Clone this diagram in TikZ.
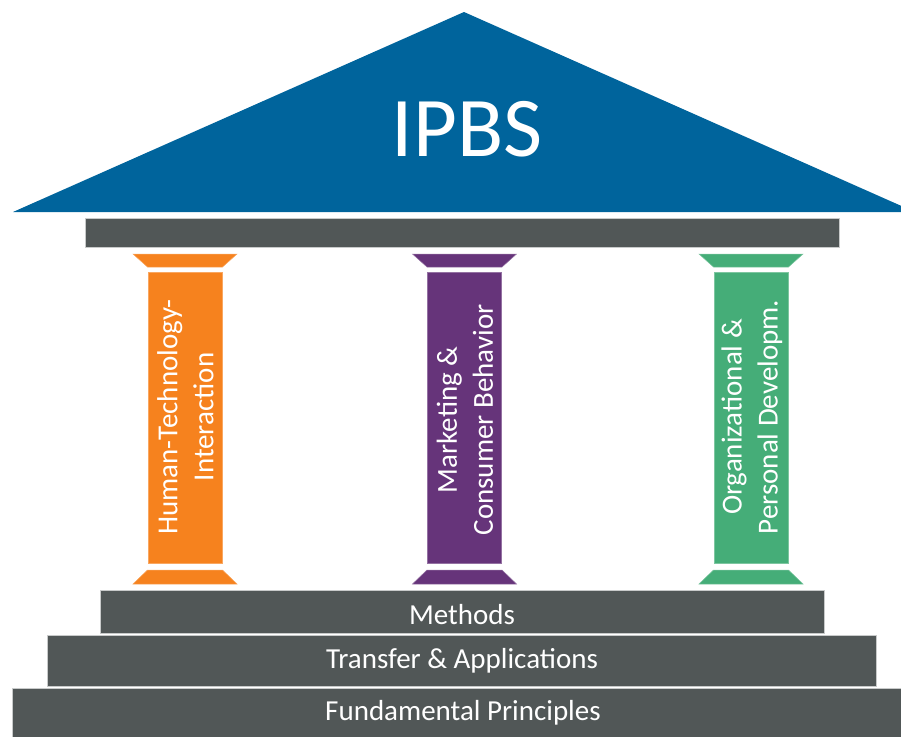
\documentclass[tikz,border=0pt]{standalone}
\usepackage{fontspec}
\setmainfont{Carlito}
\definecolor{roofblue}{HTML}{00649C}
\definecolor{stepgray}{HTML}{515757}
\definecolor{edgegray}{HTML}{C8CACA}
\definecolor{colorange}{HTML}{F6821E}
\definecolor{colpurple}{HTML}{66347A}
\definecolor{colgreen}{HTML}{45AD78}
\begin{document}
\begin{tikzpicture}[x=1pt,y=-1pt,
  stepbox/.style={fill=stepgray,draw=edgegray,line width=0.7pt},
  steptext/.style={text=white,font=\fontsize{29}{34}\selectfont,anchor=base,inner sep=0pt},
  coltext/.style={text=white,font=\fontsize{29}{36}\selectfont,align=center,rotate=90,inner sep=0pt},
  pics/pillar/.style={code={
    \fill[#1,draw=#1!70!white,line width=0.5pt] (-52,254) -- (52,254) -- (37.5,267) -- (-37.5,267) -- cycle;
    \fill[#1,draw=#1!70!white,line width=0.5pt] (-37,272) rectangle (37,563);
    \fill[#1,draw=#1!70!white,line width=0.5pt] (-37.5,570) -- (37.5,570) -- (52,584) -- (-52,584) -- cycle;
  }}]
\useasboundingbox (0,0) rectangle (901,736);
% roof
\fill[roofblue] (13,212) -- (464,12) -- (901,205.8) -- (901,212) -- cycle;
\node[text=white,font=\fontsize{85}{92}\selectfont,anchor=base,inner sep=0pt] (ipbs) at (467,156) {IPBS};
% architrave
\path[stepbox] (85,218) rectangle (839,247);
% pillars
\pic at (185,0) {pillar=colorange};
\pic at (464.5,0) {pillar=colpurple};
\pic at (751,0) {pillar=colgreen};
\node[coltext] (hti) at (185.5,417) {Human-Technology-\\Interaction};
\node[coltext] (mcb) at (465,420) {Marketing \&\\Consumer Behavior};
\node[coltext] (opd) at (752,417) {Organizational \&\hspace{18pt}\\Personal Developm.};
% steps
\path[stepbox] (100,590) rectangle (824,633);
\path[stepbox] (47,635) rectangle (876,686);
\path[stepbox] (12,688) rectangle (902,737);
\node[steptext] (methods) at (462,624) {Methods};
\node[steptext] (transfer) at (462,668) {Transfer \& Applications};
\node[steptext] (fundamental) at (463,720) {Fundamental Principles};
\end{tikzpicture}
\end{document}
